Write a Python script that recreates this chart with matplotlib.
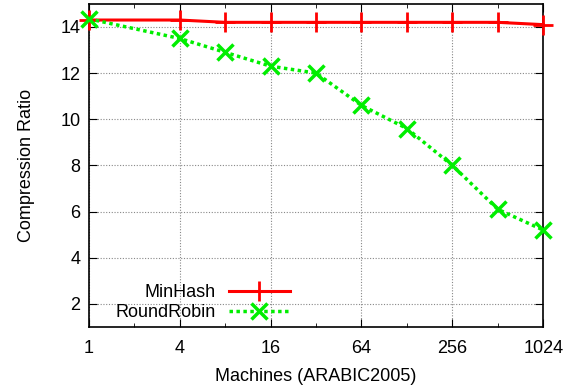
import numpy as np
import matplotlib
matplotlib.use("Agg")
import matplotlib.pyplot as plt
from matplotlib.ticker import NullFormatter

plt.rcParams['font.family'] = ['Liberation Sans', 'DejaVu Sans']

machines = [1, 4, 8, 16, 32, 64, 128, 256, 512, 1024]
minhash = [14.3, 14.3, 14.2, 14.2, 14.2, 14.2, 14.2, 14.2, 14.2, 14.1]
roundrobin = [14.35, 13.5, 12.9, 12.3, 12.0, 10.6, 9.6, 8.0, 6.1, 5.2]
xticks = [1, 4, 16, 64, 256, 1024]
yticks = [2, 4, 6, 8, 10, 12, 14]

fig = plt.figure(figsize=(5.81, 3.87), dpi=100)
ax = fig.add_axes([0.153, 0.155, 0.782, 0.835])

ax.plot(machines, minhash, color='#ff0000', lw=2.2, marker='+', ms=14, mew=2,
        label='MinHash', clip_on=False, zorder=3)
ax.plot(machines, roundrobin, color='#00ee00', lw=2.5, ls=(0, (1, 1)),
        marker='x', ms=11, mew=2.5, label='RoundRobin', clip_on=False, zorder=3)

ax.set_xscale('log', base=2)
ax.set_xlim(1, 1024)
ax.set_ylim(1, 15)
ax.set_xticks(xticks)
ax.set_xticklabels([str(t) for t in xticks])
ax.set_xticks([2, 8, 32, 128, 512], minor=True)
ax.xaxis.set_minor_formatter(NullFormatter())
ax.set_yticks(yticks)
ax.tick_params(which='both', direction='in', top=True, right=True, labelsize=13)
ax.tick_params(which='major', length=6)
ax.tick_params(which='minor', length=3)
ax.tick_params(axis='x', pad=9)
ax.tick_params(axis='y', pad=6)
ax.grid(True, which='major', color='#888888', ls=(0, (1, 1.5)), lw=0.8)
for s in ax.spines.values():
    s.set_linewidth(1.2)

ax.set_xlabel('Machines (ARABIC2005)', fontsize=13, labelpad=8)
ax.set_ylabel('Compression Ratio', fontsize=13, labelpad=18)

ax.legend(loc='lower left', frameon=False, markerfirst=False, fontsize=13,
          handlelength=3.4, handletextpad=0.7, labelspacing=0.15,
          borderaxespad=0.2, bbox_to_anchor=(0.035, -0.015))

fig.savefig('out.png', dpi=100)
